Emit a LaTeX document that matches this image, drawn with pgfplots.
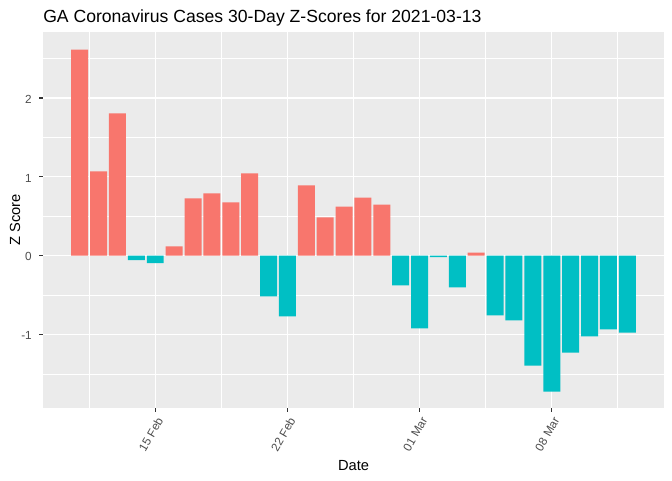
\documentclass[border=0pt]{standalone}
\usepackage{fontspec}
\setmainfont{Liberation Sans}
\usepackage{pgfplots}
\pgfplotsset{compat=1.18}
\definecolor{ggred}{HTML}{F8766D}
\definecolor{ggteal}{HTML}{00BFC4}
\definecolor{ggbg}{HTML}{EBEBEB}
\definecolor{gray30}{HTML}{4D4D4D}
\definecolor{gray20}{HTML}{333333}
\begin{document}
\begin{tikzpicture}
\path[use as bounding box, fill=white] (0,0) rectangle (504pt,360pt);
\begin{axis}[
  at={(32.25pt,54pt)}, anchor=south west,
  scale only axis, width=465.75pt, height=282pt,
  xmin=9.055, xmax=41.945, ymin=-1.932, ymax=2.834,
  axis background/.style={fill=ggbg},
  axis line style={draw=none},
  xtick={15,22,29,36}, xticklabels={15 Feb,22 Feb,01 Mar,08 Mar},
  minor xtick={11.5,18.5,25.5,32.5,39.5},
  ytick={-1,0,1,2}, minor ytick={-1.5,-0.5,0.5,1.5,2.5},
  grid=both,
  major grid style={white, line width=1.07pt},
  minor grid style={white, line width=0.53pt},
  tick align=outside, tick pos=left,
  major tick length=2.75pt, minor tick length=0pt,
  tick style={gray20, line width=1.07pt},
  ticklabel style={font=\fontsize{8.8}{10}\selectfont, text=gray30},
  xticklabel style={xshift=0.75pt, yshift=-3.25pt, rotate=60, anchor=north east, inner sep=0pt},
  yticklabel style={anchor=east, inner sep=0pt, xshift=-5.5pt, yshift=-1pt},
  /pgf/number format/assume math mode=true,
  xlabel={Date}, ylabel={Z Score},
  label style={font=\fontsize{11}{13}\selectfont, text=black},
  xlabel style={at={(axis description cs:0.5,-0.1649)}, anchor=base},
  ylabel style={at={(axis description cs:-0.037,0.5)}, anchor=base},
  title={GA Coronavirus Cases 30-Day Z-Scores for 2021-03-13},
  title style={at={(axis description cs:0,1.0266)}, anchor=base west, yshift=-6pt, font=\fontsize{13.2}{15}\selectfont, inner sep=0pt},
  ybar, bar width=0.9,
]
\addplot[fill=ggred, draw=none, bar shift=0pt] coordinates {
  (11,2.612) (12,1.067) (13,1.802) (16,0.118) (17,0.726) (18,0.789)
  (19,0.675) (20,1.042) (23,0.890) (24,0.485) (25,0.620) (26,0.734)
  (27,0.646) (32,0.038)
};
\addplot[fill=ggteal, draw=none, bar shift=0pt] coordinates {
  (14,-0.059) (15,-0.097) (21,-0.517) (22,-0.771) (28,-0.377) (29,-0.924)
  (30,-0.021) (31,-0.403) (33,-0.758) (34,-0.822) (35,-1.394) (36,-1.725)
  (37,-1.229) (38,-1.025) (39,-0.936) (40,-0.975)
};
\end{axis}
\end{tikzpicture}
\end{document}
